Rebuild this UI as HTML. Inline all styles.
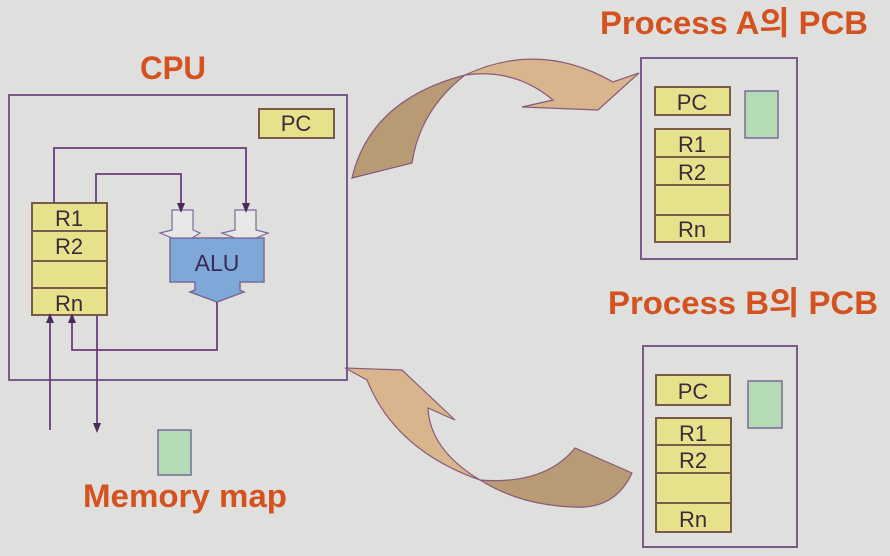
<!DOCTYPE html>
<html><head><meta charset="utf-8"><style>
html,body{margin:0;padding:0;background:#dfdfdd;}
svg{display:block}
text{font-family:"Liberation Sans","Noto Sans CJK KR",sans-serif;}
</style></head><body>
<svg width="890" height="556" viewBox="0 0 890 556" xmlns="http://www.w3.org/2000/svg">
<defs>
<marker id="ah" markerWidth="10" markerHeight="10" refX="5" refY="5" orient="auto" markerUnits="userSpaceOnUse">
<path d="M0,1 L10,5 L0,9 z" fill="#4a2a5a"/></marker>
</defs>
<rect width="890" height="556" fill="#dfdfdd"/>
<g font-weight="bold" fill="#d4521f" font-size="32">
<text x="140" y="79" textLength="66" lengthAdjust="spacingAndGlyphs">CPU</text>
<text x="600" y="34" textLength="268" lengthAdjust="spacingAndGlyphs">Process A의 PCB</text>
<text x="608" y="314" textLength="270" lengthAdjust="spacingAndGlyphs">Process B의 PCB</text>
<text x="83" y="507" textLength="204" lengthAdjust="spacingAndGlyphs">Memory map</text>
</g>
<!-- CPU box -->
<rect x="9" y="95" width="338" height="285" fill="none" stroke="#7a5a8a" stroke-width="2"/>
<g stroke="#7a5a4a" stroke-width="2" fill="#e6e28c">
<rect x="259" y="109" width="75" height="29"/>
<rect x="32" y="203" width="75" height="112"/>
<line x1="32" y1="231" x2="107" y2="231"/><line x1="32" y1="261" x2="107" y2="261"/><line x1="32" y1="288" x2="107" y2="288"/>
</g>
<g font-size="22" fill="#3a2a3a" text-anchor="middle">
<text x="296" y="131">PC</text>
<text x="69" y="226">R1</text><text x="69" y="254">R2</text><text x="69" y="311">Rn</text>
</g>
<!-- ALU -->
<path d="M170,238 H264 V282 H240 V290 L244,292 L217,302 L190,292 L195,290 V282 H170 Z" fill="#7ea8d8" stroke="#7a6a9a" stroke-width="1.5"/>
<text x="217" y="271" font-size="23" fill="#3a2a5a" text-anchor="middle">ALU</text>
<g fill="#e8e8e8" stroke="#7a6a9a" stroke-width="1.2">
<path d="M172,210 H193 V230 L200,233 L192,238 H172 L160,233 L172,230 Z"/>
<path d="M235,210 H256 V230 L268,233 L256,238 H235 L222,233 L235,230 Z"/>
</g>
<g stroke="#6a3d7a" stroke-width="1.8" fill="none">
<polyline points="54,203 54,148 246,148 246,208" marker-end="url(#ah)"/>
<polyline points="96,203 96,174 181,174 181,208" marker-end="url(#ah)"/>
<polyline points="217,302 217,350 72,350 72,318" marker-end="url(#ah)"/>
<line x1="50" y1="430" x2="50" y2="318" marker-end="url(#ah)"/>
<line x1="97" y1="315" x2="97" y2="428" marker-end="url(#ah)"/>
</g>
<rect x="158" y="430" width="33" height="45" fill="#b3dbb5" stroke="#7a6a9a" stroke-width="1.5"/>
<!-- PCB A -->
<rect x="641" y="58" width="156" height="201" fill="none" stroke="#7a5a8a" stroke-width="2"/>
<g stroke="#7a5a4a" stroke-width="2" fill="#e6e28c">
<rect x="655" y="87" width="75" height="28"/>
<rect x="655" y="129" width="75" height="113"/>
<line x1="655" y1="157" x2="730" y2="157"/><line x1="655" y1="185" x2="730" y2="185"/><line x1="655" y1="215" x2="730" y2="215"/>
</g>
<rect x="745" y="91" width="33" height="47" fill="#b3dbb5" stroke="#7a6a9a" stroke-width="1.5"/>
<g font-size="22" fill="#3a2a3a" text-anchor="middle">
<text x="692" y="110">PC</text>
<text x="692" y="152">R1</text><text x="692" y="180">R2</text><text x="692" y="237">Rn</text>
</g>
<!-- PCB B -->
<rect x="643" y="346" width="154" height="201" fill="none" stroke="#7a5a8a" stroke-width="2"/>
<g stroke="#7a5a4a" stroke-width="2" fill="#e6e28c">
<rect x="656" y="375" width="74" height="30"/>
<rect x="656" y="418" width="75" height="114"/>
<line x1="656" y1="445" x2="731" y2="445"/><line x1="656" y1="473" x2="731" y2="473"/><line x1="656" y1="503" x2="731" y2="503"/>
</g>
<rect x="748" y="381" width="34" height="47" fill="#b3dbb5" stroke="#7a6a9a" stroke-width="1.5"/>
<g font-size="22" fill="#3a2a3a" text-anchor="middle">
<text x="693" y="399">PC</text>
<text x="693" y="441">R1</text><text x="693" y="468">R2</text><text x="693" y="527">Rn</text>
</g>
<!-- top curved arrow -->
<path d="M465,75 Q540,40 613,82 L639,73 L598,110 L522,107 L553,100 Q515,68 465,75 Z" fill="#d8b58c" stroke="#8a5a7a" stroke-width="1.2"/>
<path d="M465,75 Q370,100 352,178 L412,163 Q420,110 465,75 Z" fill="#b89a74" stroke="#8a5a7a" stroke-width="1.2"/>
<!-- bottom curved arrow -->
<path d="M345,368 L402,370 L455,420 L428,408 Q430,450 480,480 Q395,450 367,380 Z" fill="#d8b58c" stroke="#8a5a7a" stroke-width="1.2"/>
<path d="M480,480 Q545,485 575,448 L632,473 Q615,510 573,507 Q520,505 480,480 Z" fill="#b89a74" stroke="#8a5a7a" stroke-width="1.2"/>
</svg>
</body></html>
